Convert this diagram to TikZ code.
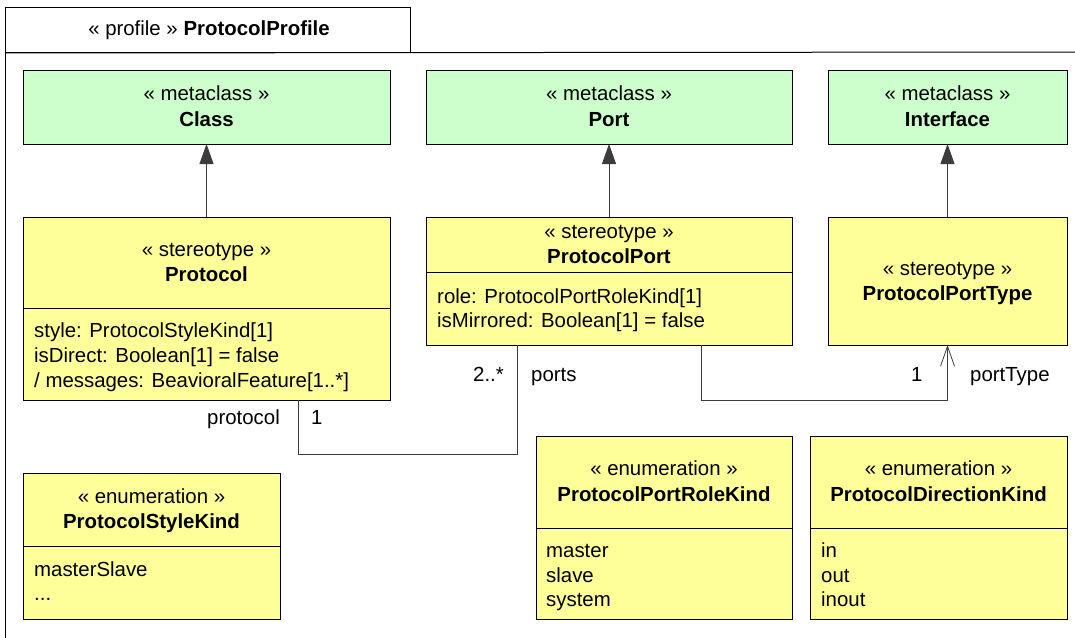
\documentclass[tikz,border=0pt]{standalone}
\usepackage{fontspec}
\setmainfont{Liberation Sans}
\usetikzlibrary{arrows.meta}
\definecolor{metagreen}{HTML}{CCFFCC}
\definecolor{stereoyellow}{HTML}{FFFF99}
\definecolor{linegray}{HTML}{3C3C3C}
\newcommand{\hfont}{\fontsize{20.4}{24}\selectfont}
\tikzset{
  box/.style={draw=black, line width=1pt, anchor=north west, inner sep=0pt,
    minimum width=#1, outer sep=0pt},
  metabox/.style={box=#1, fill=metagreen},
  stbox/.style={box=#1, fill=stereoyellow},
  hdr/.style={anchor=base, inner sep=0pt, font=\hfont},
  nm/.style={anchor=base, inner sep=0pt, font=\hfont\bfseries},
  attr/.style={anchor=base west, inner sep=0pt, font=\hfont},
  lbl/.style={inner sep=0pt, font=\hfont},
  gen/.style={draw=linegray, line width=0.8pt, -{Triangle[length=20pt,width=14pt]}},
  assoc/.style={draw=linegray, line width=0.8pt},
  nav/.style={draw=linegray, line width=0.8pt, -{Straight Barb[length=20pt,width=14pt,line width=0.8pt]}},
}
\begin{document}
\begin{tikzpicture}[x=1pt,y=-1pt]
\useasboundingbox (0,0) rectangle (1075,637);
% frame
\node[draw=black, line width=1pt, anchor=north west, minimum width=405pt, minimum height=45pt, inner sep=0pt, font=\hfont] (tab) at (5,7) {};
\node[anchor=base, inner sep=0pt, font=\hfont] (tabtxt) at (209,35) {« profile » \textbf{ProtocolProfile}};
\draw[line width=1pt] (tab.south west) -- (5,640);
\draw[line width=1pt] (tab.south west) -- (1080,52);

% metaclasses
\node[metabox=367pt, minimum height=74pt] (cls) at (23,70) {};
\node[hdr] (clsS) at (206.5,100) {« metaclass »};
\node[nm] (clsN) at (206.5,126) {Class};

\node[metabox=366pt, minimum height=74pt] (port) at (426,70) {};
\node[hdr] (portS) at (609,100) {« metaclass »};
\node[nm] (portN) at (609,126) {Port};

\node[metabox=239pt, minimum height=74pt] (iface) at (828,70) {};
\node[hdr] (ifaceS) at (947.5,100) {« metaclass »};
\node[nm] (ifaceN) at (947.5,126) {Interface};

% stereotypes
\node[stbox=367pt, minimum height=183pt] (proto) at (23,217) {};
\draw[line width=1pt] (23,308) -- (390,308);
\node[hdr] (protoS) at (206.5,256) {« stereotype »};
\node[nm] (protoN) at (206.5,281) {Protocol};
\node[attr] (protoA1) at (34,337) {style: ProtocolStyleKind[1]};
\node[attr] (protoA2) at (34,362) {isDirect: Boolean[1] = false};
\node[attr] (protoA3) at (34,387) {/ messages: BeavioralFeature[1..*]};

\node[stbox=366pt, minimum height=128pt] (pport) at (426,217) {};
\draw[line width=1pt] (426,272) -- (792,272);
\node[hdr] (pportS) at (609,238) {« stereotype »};
\node[nm] (pportN) at (609,263) {ProtocolPort};
\node[attr] (pportA1) at (437,303) {role: ProtocolPortRoleKind[1]};
\node[attr] (pportA2) at (437,327) {isMirrored: Boolean[1] = false};

\node[stbox=239pt, minimum height=128pt] (ptype) at (828,217) {};
\node[hdr] (ptypeS) at (947.5,275) {« stereotype »};
\node[nm] (ptypeN) at (947.5,300) {ProtocolPortType};

% enumerations
\node[stbox=257pt, minimum height=146pt] (style) at (23,473) {};
\draw[line width=1pt] (23,546) -- (280,546);
\node[hdr] (styleS) at (151.5,503) {« enumeration »};
\node[nm] (styleN) at (151.5,528) {ProtocolStyleKind};
\node[attr] (styleL1) at (34,576) {masterSlave};
\node[attr] (styleL2) at (34,600) {...};

\node[stbox=256pt, minimum height=183pt] (role) at (536,436) {};
\draw[line width=1pt] (536,528) -- (792,528);
\node[hdr] (roleS) at (664,475) {« enumeration »};
\node[nm] (roleN) at (664,501) {ProtocolPortRoleKind};
\node[attr] (roleL1) at (546,557) {master};
\node[attr] (roleL2) at (546,582) {slave};
\node[attr] (roleL3) at (546,606) {system};

\node[stbox=257pt, minimum height=183pt] (dir) at (810,436) {};
\draw[line width=1pt] (810,528) -- (1067,528);
\node[hdr] (dirS) at (938.5,475) {« enumeration »};
\node[nm] (dirN) at (938.5,501) {ProtocolDirectionKind};
\node[attr] (dirL1) at (821,557) {in};
\node[attr] (dirL2) at (821,582) {out};
\node[attr] (dirL3) at (821,606) {inout};

% generalizations
\draw[gen] (proto.north) -- (cls.south);
\draw[gen] (pport.north) -- (port.south);
\draw[gen] (ptype.north) -- (iface.south);

% associations
\coordinate (a1s) at ([xshift=91.5pt]proto.south);
\coordinate (a1e) at ([xshift=-92pt]pport.south);
\draw[assoc] (a1s) -- ++(0,54) -| (a1e);
\coordinate (a2s) at ([xshift=92pt]pport.south);
\draw[nav] (a2s) -- ++(0,55) -| (ptype.south);

% association labels
\node[lbl, anchor=base east] (lprot) at (280,424) {protocol};
\node[lbl, anchor=base west] (lprot1) at (311,424) {1};
\node[lbl, anchor=base east] (lports2) at (504,381) {2..*};
\node[lbl, anchor=base west] (lports) at (531,381) {ports};
\node[lbl, anchor=base west] (lpt1) at (911,381) {1};
\node[lbl, anchor=base west] (lpt) at (970,381) {portType};
\end{tikzpicture}
\end{document}
